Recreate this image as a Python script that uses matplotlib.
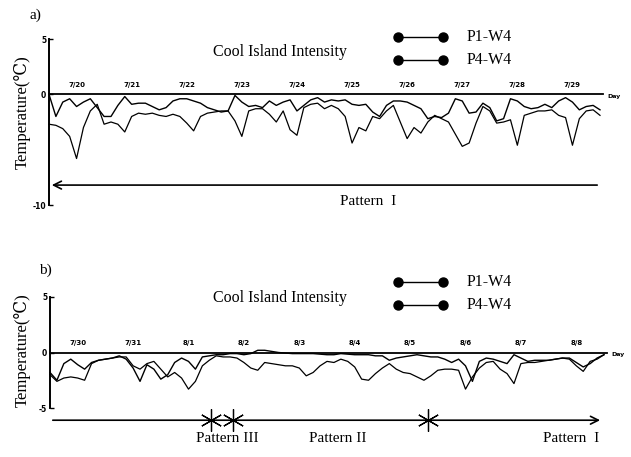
import numpy as np
import matplotlib.pyplot as plt

plt.rcParams['font.family'] = ['Liberation Serif', 'DejaVu Serif']

W, H = 631, 457

# panel a: 7/20 - 7/29, values every 3 hours (8 per day)
a_days = ['7/20', '7/21', '7/22', '7/23', '7/24', '7/25', '7/26', '7/27', '7/28', '7/29']
a_p1 = [0.0, -2.0, -0.7, -0.4, -1.1, -0.7, -0.4, -1.2,
        -2.0, -2.0, -1.0, -0.2, -0.9, -0.8, -0.8, -1.1,
        -1.4, -1.2, -0.6, -0.4, -0.4, -0.6, -0.8, -1.2,
        -1.4, -1.6, -1.5, -0.1, -0.7, -1.1, -1.0, -1.2,
        -0.6, -1.0, -0.7, -0.5, -1.5, -1.0, -0.5, -0.3,
        -0.7, -0.5, -0.6, -0.5, -0.9, -1.0, -0.9, -1.6,
        -2.0, -1.0, -0.6, -0.6, -0.7, -1.0, -1.3, -2.2,
        -2.0, -2.1, -1.7, -0.4, -0.6, -1.7, -1.6, -0.8,
        -1.2, -2.4, -2.2, -0.4, -0.6, -1.1, -1.3, -1.2,
        -0.9, -1.2, -0.6, -0.3, -0.7, -1.4, -1.1, -1.0, -1.4]
a_p4 = [-2.7, -2.8, -3.1, -3.8, -5.8, -3.0, -1.5, -0.9,
        -2.7, -2.5, -2.7, -3.4, -2.0, -1.7, -1.8, -1.7,
        -1.9, -2.0, -1.8, -2.0, -2.6, -3.3, -2.0, -1.7,
        -1.6, -1.5, -1.5, -2.4, -3.8, -1.5, -1.3, -1.3,
        -1.8, -2.5, -1.5, -3.2, -3.7, -1.2, -0.9, -0.8,
        -1.3, -1.0, -1.3, -2.0, -4.4, -3.0, -3.3, -2.0,
        -2.2, -1.5, -1.0, -2.5, -4.0, -3.0, -3.5, -2.5,
        -1.9, -2.2, -2.5, -3.6, -4.7, -4.4, -2.6, -1.1,
        -1.5, -2.6, -2.5, -2.3, -4.6, -1.9, -1.7, -1.5,
        -1.5, -1.4, -1.9, -2.1, -4.6, -2.2, -1.5, -1.4, -1.9]

# panel b: 7/30 - 8/8
b_days = ['7/30', '7/31', '8/1', '8/2', '8/3', '8/4', '8/5', '8/6', '8/7', '8/8']
b_p1 = [-1.8, -2.5, -1.0, -0.6, -1.1, -1.5, -0.9, -0.7,
        -0.6, -0.5, -0.3, -0.6, -1.4, -2.6, -1.1, -1.5,
        -2.4, -2.0, -0.9, -0.5, -0.8, -1.5, -0.4, -0.3,
        -0.2, -0.2, -0.1, -0.1, -0.2, -0.1, 0.2, 0.2,
        0.1, 0.0, -0.05, -0.1, -0.1, -0.1, -0.1, -0.15,
        -0.2, -0.2, -0.1, -0.15, -0.2, -0.2, -0.2, -0.3,
        -0.3, -0.7, -0.5, -0.4, -0.3, -0.2, -0.3, -0.4,
        -0.4, -0.6, -0.9, -0.6, -1.2, -2.6, -0.8, -0.5,
        -0.6, -0.8, -1.0, -0.2, -0.5, -0.8, -0.7, -0.7,
        -0.7, -0.6, -0.5, -0.5, -0.9, -1.3, -1.0, -0.5, -0.2]
b_p4 = [-2.0, -2.6, -2.3, -2.2, -2.3, -2.5, -1.0, -0.7,
        -0.6, -0.5, -0.4, -0.4, -1.2, -1.5, -1.0, -0.8,
        -1.5, -2.2, -1.8, -2.3, -3.3, -2.6, -1.2, -0.7,
        -0.3, -0.4, -0.4, -0.5, -0.9, -1.4, -1.6, -0.9,
        -1.0, -1.1, -1.2, -1.2, -1.4, -2.1, -1.8, -1.2,
        -0.8, -0.9, -0.6, -0.8, -1.3, -2.4, -2.5, -1.9,
        -1.4, -1.0, -1.5, -1.8, -1.9, -2.2, -2.5, -2.1,
        -1.6, -1.5, -1.5, -1.6, -3.3, -2.2, -1.4, -0.9,
        -0.8, -1.5, -1.9, -2.8, -1.0, -0.9, -0.9, -0.8,
        -0.7, -0.6, -0.5, -0.6, -1.2, -1.7, -0.8, -0.6, -0.2]

b_breaks = [2.91, 3.3, 6.82]
b_patterns = ['Pattern III', 'Pattern II', 'Pattern  I']
b_pattern_x = [3.2, 5.2, 9.4]

fig = plt.figure(figsize=(W / 100, H / 100), dpi=100)


def px_axes(x0, x1, ytop, ybot):
    return fig.add_axes([x0 / W, 1 - ybot / H, (x1 - x0) / W, (ybot - ytop) / H])


def panel(ax, days, p1, p4, ymin, xmax, zero_end):
    for s in ['top', 'right', 'bottom']:
        ax.spines[s].set_visible(False)
    ax.spines['left'].set_linewidth(1.4)
    ax.set_xlim(0, xmax)
    ax.set_ylim(ymin, 5)
    ax.set_xticks([])
    ax.set_yticks([5, 0, ymin])
    ax.set_yticklabels(['5', '0', str(ymin)], family='DejaVu Sans',
                       fontsize=5.5, fontweight='bold')
    ax.tick_params(axis='y', direction='in', length=3, width=1, pad=2)
    ax.plot([0, zero_end], [0, 0], color='black', lw=1.3, clip_on=False)
    t = np.arange(len(p1)) / 8
    ax.plot(t, p1, color='black', lw=1.0, clip_on=False)
    ax.plot(t, p4, color='black', lw=0.9, clip_on=False)
    for i, d in enumerate(days):
        ax.text(i + 0.5, 0.55, d, ha='center', va='bottom', family='DejaVu Sans',
                fontsize=5, fontweight='bold')
    ax.text(zero_end + 0.08, -0.2, 'Day', ha='left', va='center',
            family='DejaVu Sans', fontsize=4.5, fontweight='bold')


ax_a = px_axes(49, 620, 39, 205)
panel(ax_a, a_days, a_p1, a_p4, -10, (620 - 49) / 55.1, 10.05)
ax_a.annotate('', xy=(0, -8.2), xytext=(10.0, -8.2),
              arrowprops=dict(arrowstyle='->', lw=1.2, mutation_scale=14, color='black'),
              annotation_clip=False)
ax_a.text(5.8, -9.7, 'Pattern  I', ha='center', va='center', fontsize=11)

ax_b = px_axes(50, 620, 297, 408)
panel(ax_b, b_days, b_p1, b_p4, -5, 570 / 55.4, 10.05)
ax_b.annotate('', xy=(9.98, -6.1), xytext=(0, -6.1),
              arrowprops=dict(arrowstyle='->', lw=1.2, mutation_scale=14, color='black'),
              annotation_clip=False)
ax_b.plot(b_breaks, [-6.1] * 3, linestyle='none', marker=(6, 2, 0), markersize=16,
          markeredgewidth=0.9, color='black', clip_on=False)
for name, xp in zip(b_patterns, b_pattern_x):
    ax_b.text(xp, -7.75, name, ha='center', va='center', fontsize=11, clip_on=False)

# overlay in pixel coordinates for titles and legends
ov = fig.add_axes([0, 0, 1, 1])
ov.set_xlim(0, W)
ov.set_ylim(H, 0)
ov.axis('off')

for lab, lx, ly, ycool, y1, y2, ylab in [('a)', 35, 15, 52, 37, 60, 112),
                                         ('b)', 45, 270, 298, 282, 305, 350)]:
    ov.text(lx, ly, lab, ha='center', va='center', fontsize=11)
    ov.text(213, ycool, 'Cool Island Intensity', ha='left', va='center', fontsize=11.5)
    for yy, name in [(y1, 'P1-W4'), (y2, 'P4-W4')]:
        ov.plot([398, 443], [yy, yy], color='black', lw=1.0,
                marker='o', markersize=6.5)
        ov.text(467, yy, name, ha='left', va='center', fontsize=11.5)
    ov.text(22, ylab, 'Temperature(℃)', rotation=90, ha='center', va='center',
            fontsize=12)

fig.savefig('out.png', dpi=100)
